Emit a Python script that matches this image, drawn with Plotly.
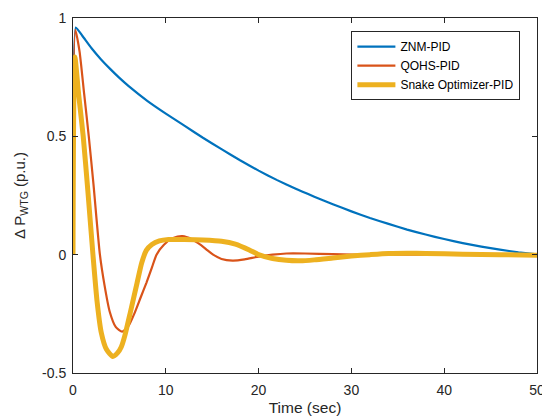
import plotly.graph_objects as go

# ZNM-PID
t_znm = [0, 0.3, 1.0, 2, 3, 4, 5, 6, 8, 10, 12, 14, 16, 18, 20, 22, 24, 26, 28, 30,
         32, 34, 36, 38, 40, 42, 44, 46, 48, 50]
v_znm = [0, 0.96, 0.925, 0.872, 0.826, 0.785, 0.747, 0.712, 0.650, 0.596, 0.545,
         0.494, 0.446, 0.399, 0.355, 0.315, 0.278, 0.245, 0.213, 0.183, 0.155, 0.130,
         0.106, 0.085, 0.066, 0.049, 0.034, 0.021, 0.010, 0.001]

# QOHS-PID
t_qohs = [0, 0.25, 0.7, 1.2, 1.7, 2.2, 2.9, 3.4, 3.95, 4.6, 5.3, 6.0, 6.6, 7.3, 7.9,
          8.5, 9.0, 9.8, 10.8, 11.8, 12.8, 13.8, 14.5, 15.1, 16.0, 17.2, 18.5, 20.0,
          21.5, 23.0, 25.0, 28.0, 32.0, 40.0, 50.0]
v_qohs = [0, 0.95, 0.86, 0.68, 0.5, 0.3, 0.0, -0.13, -0.24, -0.305, -0.325, -0.30,
          -0.25, -0.18, -0.12, -0.055, 0.0, 0.042, 0.07, 0.078, 0.065, 0.04, 0.018,
          0.0, -0.018, -0.025, -0.02, -0.008, 0.0, 0.005, 0.005, 0.002, 0.0, 0.0, 0.0]

# Snake Optimizer-PID
t_so = [0, 0.2, 0.6, 1.1, 1.6, 2.15, 2.6, 3.05, 3.6, 4.3, 4.8, 5.2, 5.6, 6.2, 6.9,
        7.4, 7.9, 8.5, 9.3, 10.3, 12.0, 14.0, 16.0, 17.5, 19.0, 20.0, 21.5, 23.0,
        24.5, 26.0, 28.0, 30.0, 32.0, 34.0, 36.0, 38.0, 42.0, 46.0, 50.0]
v_so = [0, 0.835, 0.68, 0.5, 0.27, 0.0, -0.2, -0.33, -0.40, -0.43, -0.415, -0.39,
        -0.34, -0.24, -0.12, -0.035, 0.018, 0.043, 0.058, 0.064, 0.064, 0.062, 0.057,
        0.045, 0.02, 0.0, -0.016, -0.024, -0.026, -0.022, -0.014, -0.006, 0.0, 0.005,
        0.006, 0.005, 0.002, 0.0, -0.002]

x_ticks = [0, 10, 20, 30, 40, 50]
y_ticks = [-0.5, 0, 0.5, 1]
y_tick_text = ["-0.5", "0", "0.5", "1"]

fig = go.Figure()
fig.add_trace(go.Scatter(x=t_znm, y=v_znm, mode="lines", name="ZNM-PID",
                         line=dict(color="#0072BD", width=2.2, shape="spline", smoothing=0.4)))
fig.add_trace(go.Scatter(x=t_qohs, y=v_qohs, mode="lines", name="QOHS-PID",
                         line=dict(color="#D95319", width=2.2, shape="spline", smoothing=0.6)))
fig.add_trace(go.Scatter(x=t_so, y=v_so, mode="lines", name="Snake Optimizer-PID",
                         line=dict(color="#EDB120", width=5, shape="spline", smoothing=0.6)))

axis_common = dict(showgrid=False, zeroline=False, showline=True, linecolor="#262626",
                   linewidth=1, ticks="inside", ticklen=5, tickcolor="#262626",
                   mirror="ticks", ticklabeloverflow="allow", automargin=False,
                   tickfont=dict(family="Liberation Sans, Arial", size=14, color="#262626"))

fig.update_layout(
    width=542, height=416,
    margin=dict(l=73, r=5, t=18, b=43, autoexpand=False),
    paper_bgcolor="white", plot_bgcolor="white",
    font=dict(family="Liberation Sans, Arial", color="#262626"),
    xaxis=dict(range=[0, 50], tickvals=x_ticks, ticklabelstandoff=4,
               title=dict(text="Time (sec)", font=dict(size=15.5), standoff=6),
               **axis_common),
    yaxis=dict(range=[-0.5, 1], tickvals=y_ticks, ticktext=y_tick_text,
               ticklabelstandoff=3,
               title=dict(text="Δ P<sub>WTG</sub> (p.u.)", font=dict(size=15), standoff=12),
               **axis_common),
    legend=dict(x=0.6, y=0.963, xanchor="left", yanchor="top",
                bordercolor="#262626", borderwidth=1, bgcolor="white",
                font=dict(size=12, color="#000000"), tracegroupgap=0,
                itemwidth=38),
    showlegend=True,
)

fig.write_html("out.html")
